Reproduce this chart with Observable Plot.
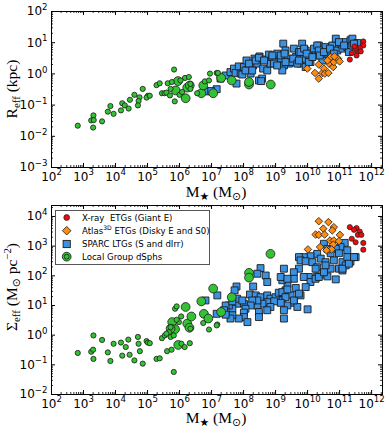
<!DOCTYPE html>
<html><head><meta charset="utf-8">
<script src="https://cdn.jsdelivr.net/npm/d3@7"></script>
<script src="https://cdn.jsdelivr.net/npm/@observablehq/plot@0.6"></script>
<style>
body{margin:0;background:#fff;}
#wrap{position:relative;width:390px;height:434px;overflow:hidden;}
#wrap svg{display:block;}
</style></head><body><div id="wrap"></div>
<script>
// ---------- DATA (log10 values) ----------
// Top panel: [log10 M*, log10 Reff(kpc)]
const xrayTop = [[11.74,1.04],[11.74,0.91],[11.63,0.83],[11.55,0.72],[11.66,0.72],[11.50,0.81],[11.53,0.59],[11.38,0.67],[11.32,0.46],[11.47,0.88]];
const atlasTop = [[9.99,0.17],[10.35,0.30],[10.23,0.03],[10.35,-0.15],[10.46,0.03],[10.51,0.17],[10.54,0.01],[10.65,0.03],[10.72,0.54],[10.67,0.33],[10.80,0.22],[10.82,0.38],[10.62,0.43],[10.95,0.49],[11.00,0.40],[10.84,0.56]];
const sparcTop = [[6.83,-0.56],[7.16,-0.49],[6.99,-0.55],[7.28,-0.15],[7.44,-0.05],[7.59,0.06],[7.70,0.17],[7.75,0.03],[7.78,-0.31],[7.85,0.24],[7.91,0.01],[8.01,0.22],[8.09,0.43],[8.12,0.13],[8.22,0.01],[8.30,0.27],[8.34,0.49],[8.43,0.33],[8.50,0.56],[8.48,-0.21],[8.58,-0.15],[8.61,0.17],[8.69,0.46],[8.74,0.11],[8.79,0.62],[8.84,0.33],[8.90,0.54],[9.00,0.38],[9.05,0.65],[9.16,0.49],[9.24,0.97],[9.31,0.75],[9.37,0.49],[9.42,0.33],[9.26,0.27],[9.21,0.11],[9.47,0.38],[9.57,0.81],[9.63,0.54],[9.73,0.70],[9.78,0.33],[9.83,0.97],[9.89,0.49],[9.94,0.75],[9.94,0.22],[10.04,0.59],[10.09,0.38],[10.20,0.81],[10.25,0.59],[10.35,0.91],[10.41,0.70],[10.46,0.43],[10.56,0.86],[10.62,0.65],[10.72,0.75],[10.77,0.91],[10.88,1.13],[10.93,0.75],[11.03,0.97],[11.09,0.81],[11.19,1.02],[11.24,0.86],[11.34,1.08],[11.29,0.70],[11.40,0.91],[11.40,1.13],[11.55,0.99],[7.96,-0.02],[8.06,0.11],[8.17,0.33],[8.27,0.11],[8.38,0.43],[8.48,0.52],[8.55,-0.23],[8.64,0.43],[8.90,0.59],[8.95,0.33],[9.05,0.27],[9.16,0.59],[9.28,0.65],[9.31,0.38],[9.55,0.49],[9.68,0.33],[9.73,0.43],[9.78,0.70],[9.89,0.81],[9.97,0.65],[10.04,0.38],[10.15,0.54],[10.30,0.91],[10.35,0.75],[10.38,0.59],[10.51,0.70],[10.70,0.81],[10.82,0.65],[10.98,1.02],[11.14,0.91],[11.45,0.97]];
const dsphTopSmall = [[2.82,-1.66],[3.31,-1.33],[3.24,-1.49],[3.32,-1.48],[3.30,-1.72],[3.58,-1.52],[3.84,-1.03],[3.76,-1.21],[3.94,-1.28],[4.21,-0.94],[4.17,-1.17],[4.29,-1.01],[4.41,-1.11],[4.45,-0.83],[4.59,-0.67],[4.75,-0.75],[4.72,-0.87],[4.70,-1.01],[4.85,-0.48],[5.01,-0.70],[4.97,-0.76],[5.07,-0.70],[5.28,-0.36],[5.38,-0.30],[5.45,-0.62],[5.53,-0.62],[5.83,0.14],[5.63,-0.30],[5.76,-0.26],[5.72,-0.48],[6.00,-0.67],[5.85,-0.88],[6.17,-0.13],[6.29,-0.10],[5.59,-0.60],[5.70,-0.69],[6.08,-0.58],[6.03,-0.21],[6.79,-0.24],[6.92,-0.21],[6.95,0.01],[7.16,0.03],[7.20,0.03],[6.55,-0.62],[6.34,-0.48],[6.34,-0.32]];
const dsphTopBig = [[5.95,-0.23],[5.88,-0.53],[6.19,-0.78],[6.24,-0.44],[6.32,-0.37],[6.68,-0.62],[6.74,-0.37],[7.05,-0.62],[7.30,-0.13],[7.63,-0.21],[8.17,-0.34],[8.17,-0.26],[8.85,-0.34]];

// Bottom panel: [log10 M*, log10 Sigma_eff(Msun/pc^2)]
const xrayBot = [[11.32,3.64],[11.53,3.61],[11.63,3.49],[11.57,3.38],[11.68,3.38],[11.38,3.25],[11.50,3.13],[11.74,3.11],[11.74,2.88],[11.45,3.55]];
const atlasBot = [[10.35,3.84],[10.65,3.81],[10.49,3.59],[10.82,3.64],[10.77,3.53],[10.25,3.39],[10.35,3.38],[10.53,3.39],[11.01,3.38],[10.70,3.19],[10.82,3.19],[10.98,3.17],[10.80,3.05],[10.39,2.97],[10.67,2.88],[10.75,2.89],[10.01,2.89],[10.59,2.86]];
const sparcBot = [[11.16,3.11],[11.03,2.97],[11.24,2.86],[10.88,2.91],[10.98,2.76],[10.72,2.76],[10.51,3.08],[10.62,2.91],[10.30,2.74],[10.41,2.58],[10.09,2.66],[9.88,2.63],[9.73,2.63],[9.78,2.52],[9.94,2.49],[10.15,2.46],[10.56,2.46],[10.82,2.52],[11.09,2.46],[11.34,2.48],[11.24,2.63],[11.50,2.63],[10.98,2.24],[10.72,2.24],[10.56,2.35],[10.30,2.29],[10.25,2.24],[10.51,2.04],[10.62,1.98],[10.88,1.88],[11.09,2.18],[11.19,2.35],[10.30,1.98],[10.04,1.96],[9.88,1.96],[9.73,2.24],[9.57,2.12],[9.57,1.90],[9.26,2.24],[10.09,1.79],[9.37,1.73],[9.63,1.59],[9.21,1.85],[9.31,1.51],[9.47,1.34],[9.78,1.34],[9.16,1.40],[9.21,1.17],[9.57,1.09],[9.37,1.00],[9.16,1.96],[9.37,1.90],[8.53,2.26],[8.43,2.07],[8.69,2.01],[8.74,1.79],[8.30,1.64],[7.78,1.64],[7.72,1.51],[8.20,1.37],[8.38,1.34],[8.53,1.28],[8.74,1.34],[8.84,1.23],[9.00,1.28],[9.10,1.43],[9.21,1.45],[9.31,1.28],[9.37,1.54],[9.16,1.09],[8.95,1.14],[8.74,1.11],[8.59,1.06],[8.43,1.00],[8.84,0.95],[8.74,0.84],[8.48,0.78],[8.48,0.61],[9.26,0.84],[8.43,1.17],[8.27,1.17],[8.22,1.00],[8.01,1.06],[8.06,0.89],[8.01,0.76],[7.80,1.06],[7.65,0.89],[7.54,1.00],[7.44,1.00],[7.39,0.84],[7.80,1.23],[7.65,1.14],[7.96,1.17],[8.01,0.61],[8.12,0.44],[7.85,0.56],[7.65,0.67],[7.59,0.56],[7.44,0.69],[7.16,0.72],[7.18,1.34],[6.81,1.17],[9.26,0.56],[10.00,0.87],[9.68,0.95],[9.57,1.17],[9.73,1.40],[9.94,1.62],[10.25,1.90],[10.35,1.96],[10.51,2.12],[11.09,2.24],[11.29,2.41],[11.45,2.63]];
const dsphBotSmall = [[2.82,-0.60],[3.31,-0.01],[3.24,-0.56],[3.30,-0.49],[3.31,-0.80],[3.58,-0.16],[3.76,-0.58],[3.84,-0.87],[3.94,-0.29],[4.17,-0.25],[4.21,-0.69],[4.40,-0.15],[4.44,-0.66],[4.32,-0.40],[4.59,-0.85],[4.70,-0.06],[4.72,-0.29],[4.76,-0.54],[4.85,-0.96],[4.97,-0.20],[5.01,-0.25],[5.07,-0.27],[5.28,-0.80],[5.38,-0.78],[5.45,-0.10],[5.54,-0.01],[5.61,-0.54],[5.75,-0.49],[5.86,0.89],[5.91,0.97],[6.05,0.63],[6.06,-0.29],[6.16,-0.40],[6.32,-0.27],[5.72,-0.06],[5.67,0.10],[5.59,0.05],[5.82,-0.01],[5.98,0.44],[5.72,0.27],[5.91,0.52],[5.82,-1.24],[6.74,0.41],[6.92,0.19],[7.18,0.36],[7.16,0.33],[6.34,0.22]];
const dsphBotBig = [[6.19,0.95],[5.77,0.44],[5.86,0.20],[5.96,-0.33],[6.24,0.39],[6.31,0.25],[6.37,0.63],[5.72,0.22],[8.84,2.74],[8.17,2.10],[8.17,1.94],[7.05,1.57],[7.63,1.28],[6.68,1.14],[6.76,0.72],[6.90,0.56],[7.30,0.78]];

// axis tick exponents
const xTickExp = [2,3,4,5,6,7,8,9,10,11,12];
const yTickExpTop = [-3,-2,-1,0,1,2];
const yTickExpBot = [-2,-1,0,1,2,3,4];

// legend labels
const legendLabels = [
  {parts:[{t:"X-ray  ETGs (Giant E)"}], kind:"xray"},
  {parts:[{t:"Atlas"},{t:"3D",sup:true},{t:" ETGs (Disky E and S0)"}], kind:"atlas"},
  {parts:[{t:"SPARC LTGs (S and dIrr)"}], kind:"sparc"},
  {parts:[{t:"Local Group dSphs"}], kind:"dsph"}
];

// ---------- STYLE ----------
const C = {xray:"#ee0a0a", atlas:"#ff8c11", sparc:"#3a92e4", dsph:"#33c233"};
const EDGE = "#1c1c1c";
const W = 390;
const XDOM = [1e2, Math.pow(10,12.34)];
const ML = 51, MR = 8;
const pw = (v)=>Math.pow(10,v);
const toPts = (arr)=>arr.map(([a,b])=>({x:pw(a), y:pw(b)}));

function minorTicks(lo, hi){
  const out=[];
  for(let e=Math.floor(Math.log10(lo)); e<=Math.ceil(Math.log10(hi)); e++){
    for(let m=2;m<=9;m++){const v=m*Math.pow(10,e); if(v>lo && v<hi) out.push(v);}
  }
  return out;
}
const supMinus = (e)=> (e<0? "\u2212"+(-e) : ""+e);

function panel({height, mt, mb, ydom, yExp, sets}){
  const H = height - mt - mb, Wf = W - ML - MR;
  const xMaj = xTickExp.map(pw), yMaj = yExp.map(pw);
  const xMin = minorTicks(XDOM[0], XDOM[1]), yMin = minorTicks(ydom[0], ydom[1]);
  const marks = [];
  marks.push(Plot.dot(toPts(sets.sparc), {x:"x", y:"y", symbol:"square", r:3.9, fill:C.sparc, stroke:EDGE, strokeWidth:0.9}));
  marks.push(Plot.dot(toPts(sets.dsphBig), {x:"x", y:"y", r:4.4, fill:C.dsph, stroke:EDGE, strokeWidth:0.8}));
  marks.push(Plot.dot(toPts(sets.dsphSmall), {x:"x", y:"y", r:2.6, fill:C.dsph, stroke:EDGE, strokeWidth:0.8}));
  marks.push(Plot.dot(toPts(sets.atlas), {x:"x", y:"y", symbol:"diamond2", r:3.4, fill:C.atlas, stroke:EDGE, strokeWidth:0.8}));
  marks.push(Plot.dot(toPts(sets.xray), {x:"x", y:"y", r:2.6, fill:C.xray, stroke:EDGE, strokeWidth:0.7}));
  const xm = xMaj.filter(v=>v>XDOM[0]&&v<XDOM[1]);
  const ym = yMaj.filter(v=>v>ydom[0]&&v<ydom[1]);
  marks.push(Plot.ruleX(xm, {x:d=>d, insetTop:H-4, stroke:"black"}));
  marks.push(Plot.ruleX(xm, {x:d=>d, insetBottom:H-4, stroke:"black"}));
  marks.push(Plot.ruleX(xMin, {x:d=>d, insetTop:H-2, stroke:"black", strokeWidth:0.8}));
  marks.push(Plot.ruleX(xMin, {x:d=>d, insetBottom:H-2, stroke:"black", strokeWidth:0.8}));
  marks.push(Plot.ruleY(ym, {y:d=>d, insetRight:Wf-4, stroke:"black"}));
  marks.push(Plot.ruleY(ym, {y:d=>d, insetLeft:Wf-4, stroke:"black"}));
  marks.push(Plot.ruleY(yMin, {y:d=>d, insetRight:Wf-2, stroke:"black", strokeWidth:0.8}));
  marks.push(Plot.ruleY(yMin, {y:d=>d, insetLeft:Wf-2, stroke:"black", strokeWidth:0.8}));
  marks.push(Plot.frame({stroke:"black", strokeWidth:1}));
  marks.push(Plot.text(xTickExp, {x:d=>pw(d), frameAnchor:"bottom", lineAnchor:"top", dy:4.5, text:d=>"10^"+supMinus(d), fontSize:12, fill:"black"}));
  marks.push(Plot.text(yExp, {y:d=>pw(d), frameAnchor:"left", textAnchor:"end", dx:-4, text:d=>"10^"+supMinus(d), fontSize:12, fill:"black"}));
  return Plot.plot({
    width: W, height, marginLeft: ML, marginRight: MR, marginTop: mt, marginBottom: mb,
    x: {type:"log", domain: XDOM, axis:null},
    y: {type:"log", domain: ydom, axis:null},
    style: {fontFamily:"'DejaVu Sans', sans-serif", fontSize:"12px", background:"white", overflow:"visible"},
    marks
  });
}

function supify(svg){
  d3.select(svg).selectAll("text").each(function(){
    const t = this.textContent; const m = /^(10)\^(.+)$/.exec(t);
    if(!m) return;
    const el = d3.select(this); el.text(null);
    el.append("tspan").text(m[1]);
    el.append("tspan").attr("dy", -5.2).attr("font-size", 8.6).text(m[2]);
  });
}

function mathText(g, parts, size, family, anchor){
  const t = g.append("text").attr("font-family", family).attr("font-size", size).attr("fill","black")
    .attr("text-anchor", anchor).style("white-space","pre");
  let cur = 0;
  for(const p of parts){
    const target = p.sub ? size*0.22 : p.sup ? -size*0.4 : 0;
    const fs = (p.sub||p.sup) ? size*0.7 : size;
    const ts = t.append("tspan").attr("font-size", fs).text(p.t);
    if(p.font) ts.attr("font-family", p.font);
    if(target-cur !== 0) ts.attr("dy", target-cur);
    cur = target;
  }
  return t;
}

const SERIF = "'Liberation Serif', 'DejaVu Serif', serif";
const SYM = "'DejaVu Sans', sans-serif";
const wrap = document.getElementById("wrap");

const topSvg = panel({height:200, mt:11, mb:33, ydom:[1e-3,1e2], yExp:yTickExpTop,
  sets:{sparc:sparcTop, dsphBig:dsphTopBig, dsphSmall:dsphTopSmall, atlas:atlasTop, xray:xrayTop}});
supify(topSvg);
wrap.appendChild(topSvg);
{
  const s = d3.select(topSvg);
  mathText(s.append("g").attr("transform","translate(17,89) rotate(-90)"),
    [{t:"R"},{t:"eff",sub:true},{t:" (kpc)"}], 15.5, SERIF, "middle");
  mathText(s.append("g").attr("transform","translate(216,197)"),
    [{t:"M"},{t:"\u2605",sub:true,font:SYM},{t:" (M"},{t:"\u2299",sub:true,font:SYM},{t:")"}], 15.5, SERIF, "middle");
}

const botSvg = panel({height:234, mt:5, mb:40, ydom:[1e-2, Math.pow(10,4.37)], yExp:yTickExpBot,
  sets:{sparc:sparcBot, dsphBig:dsphBotBig, dsphSmall:dsphBotSmall, atlas:atlasBot, xray:xrayBot}});
supify(botSvg);
wrap.appendChild(botSvg);
{
  const s = d3.select(botSvg);
  mathText(s.append("g").attr("transform","translate(17,87) rotate(-90)"),
    [{t:"\u03a3"},{t:"eff",sub:true},{t:" (M"},{t:"\u2299",sub:true,font:SYM},{t:" pc"},{t:"\u22122",sup:true},{t:")"}], 15.5, SERIF, "middle");
  mathText(s.append("g").attr("transform","translate(216,223)"),
    [{t:"M"},{t:"\u2605",sub:true,font:SYM},{t:" (M"},{t:"\u2299",sub:true,font:SYM},{t:")"}], 15.5, SERIF, "middle");
  const lg = s.append("g").attr("transform","translate(55,10)");
  lg.append("rect").attr("x",0.5).attr("y",0.5).attr("width",154).attr("height",54).attr("fill","white").attr("stroke","#555").attr("stroke-width",1);
  const rowY = [7.5, 20.7, 34, 46.7];
  legendLabels.forEach((L,i)=>{
    const y = rowY[i], mx = 11.7;
    if(L.kind==="xray") lg.append("circle").attr("cx",mx).attr("cy",y).attr("r",2.9).attr("fill",C.xray).attr("stroke",EDGE).attr("stroke-width",0.7);
    if(L.kind==="atlas") lg.append("path").attr("d",`M${mx},${y-4.3}L${mx+4.3},${y}L${mx},${y+4.3}L${mx-4.3},${y}Z`).attr("fill",C.atlas).attr("stroke",EDGE).attr("stroke-width",0.8);
    if(L.kind==="sparc") lg.append("rect").attr("x",mx-3.6).attr("y",y-3.6).attr("width",7.2).attr("height",7.2).attr("fill",C.sparc).attr("stroke",EDGE).attr("stroke-width",0.9);
    if(L.kind==="dsph"){
      lg.append("circle").attr("cx",mx).attr("cy",y).attr("r",4.4).attr("fill",C.dsph).attr("stroke",EDGE).attr("stroke-width",0.8);
      lg.append("circle").attr("cx",mx).attr("cy",y).attr("r",2.4).attr("fill",C.dsph).attr("stroke",EDGE).attr("stroke-width",0.8);
    }
    mathText(lg.append("g").attr("transform",`translate(27,${y+3})`), L.parts, 8.6, "'DejaVu Sans', sans-serif", "start");
  });
}
</script></body></html>
